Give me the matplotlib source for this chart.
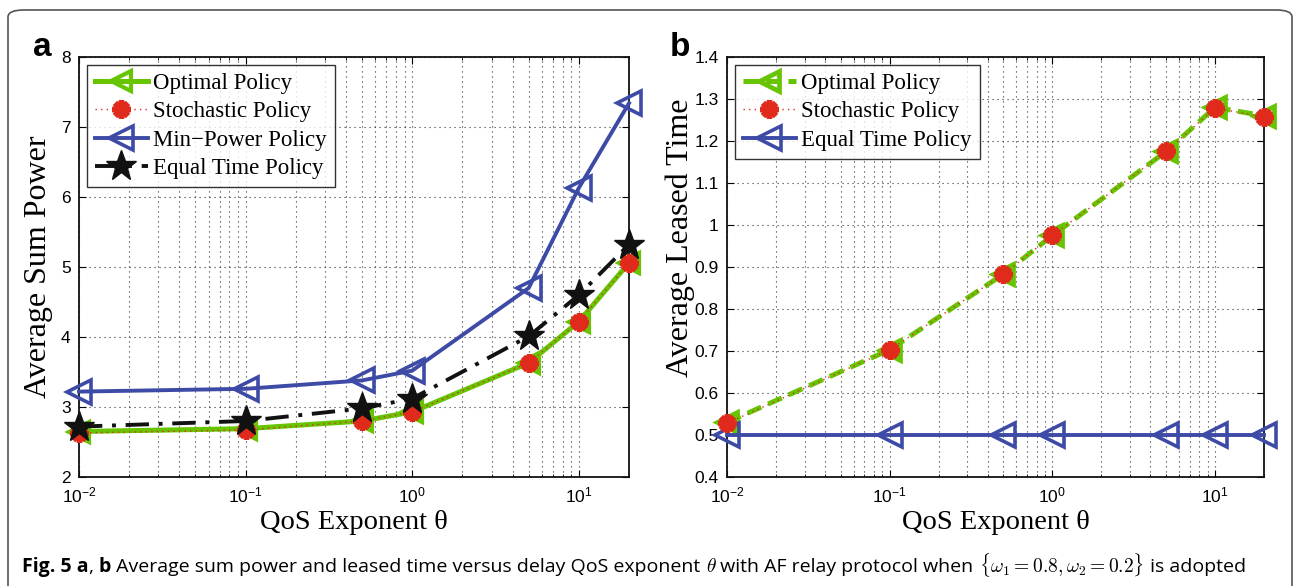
import matplotlib
matplotlib.use("Agg")
import matplotlib.pyplot as plt
from matplotlib.patches import FancyBboxPatch
from matplotlib.ticker import LogLocator, NullFormatter, FixedLocator

# ---------------- data ----------------
theta = [0.01, 0.1, 0.5, 1, 5, 10, 20]

power_optimal = [2.65, 2.69, 2.80, 2.93, 3.63, 4.22, 5.06]
power_stochastic = [2.63, 2.67, 2.80, 2.93, 3.63, 4.22, 5.06]
power_minpower = [3.22, 3.26, 3.38, 3.52, 4.70, 6.13, 7.34]
power_equal = [2.72, 2.80, 2.98, 3.12, 4.01, 4.60, 5.32]

time_optimal = [0.530, 0.703, 0.883, 0.975, 1.175, 1.280, 1.260]
time_stochastic = [0.528, 0.703, 0.883, 0.975, 1.175, 1.278, 1.258]
time_equal = [0.5, 0.5, 0.5, 0.5, 0.5, 0.5, 0.5]

labels_a = ["Optimal Policy", "Stochastic Policy", "Min\u2212Power Policy", "Equal Time Policy"]
labels_b = ["Optimal Policy", "Stochastic Policy", "Equal Time Policy"]

yticks_a = [2, 3, 4, 5, 6, 7, 8]
yticks_b = [0.4, 0.5, 0.6, 0.7, 0.8, 0.9, 1.0, 1.1, 1.2, 1.3, 1.4]
ytick_labels_b = ["0.4", "0.5", "0.6", "0.7", "0.8", "0.9", "1", "1.1", "1.2", "1.3", "1.4"]

# ---------------- style ----------------
GREEN = "#66c400"
RED = "#e02a1c"
BLUE = "#3d4ba6"
BLACK = "#111111"
SERIF = "Liberation Serif"
SANS = "Liberation Sans"

plt.rcParams["mathtext.fontset"] = "cm"

W, H = 1294, 586
fig = plt.figure(figsize=(W / 100, H / 100), dpi=100)
fig.patch.set_facecolor("white")

def fx(px):
    return px / W

def fy(py):
    return 1 - py / H

# outer rounded frame
frame = FancyBboxPatch((fx(8), fy(620)), fx(1284), (620 - 10) / H,
                       boxstyle="round,pad=0,rounding_size=0.012",
                       transform=fig.transFigure, facecolor="none",
                       edgecolor="#555555", linewidth=1.2, clip_on=False)
fig.patches.append(frame)

ax_a = fig.add_axes([fx(79), fy(477), fx(629 - 79), (477 - 57) / H])
ax_b = fig.add_axes([fx(727), fy(477), fx(1264 - 727), (477 - 57) / H])

asterisk = (8, 2, 0)

# ----- panel a -----
ax_a.plot(theta, power_optimal, color=GREEN, lw=3.6, marker="<", ms=15,
          mfc="none", mec=GREEN, mew=3.0, label=labels_a[0], zorder=3, clip_on=False)
ax_a.plot(theta, power_stochastic, color=RED, lw=1.0, ls=(0, (1, 3)), marker=asterisk,
          ms=13, mec=RED, mew=4.0, label=labels_a[1], zorder=4, clip_on=False)
ax_a.plot(theta, power_minpower, color=BLUE, lw=2.8, marker="<", ms=17,
          mfc="none", mec=BLUE, mew=2.6, label=labels_a[2], zorder=3, clip_on=False)
ax_a.plot(theta, power_equal, color=BLACK, lw=2.8, ls=(0, (6, 2.5, 1, 2.5)), marker="*", ms=23,
          mfc=BLACK, mec=BLACK, label=labels_a[3], zorder=5, clip_on=False)
ax_a.set_ylim(2, 8)
ax_a.set_yticks(yticks_a)
ax_a.set_yticklabels([str(v) for v in yticks_a])

# ----- panel b -----
ax_b.plot(theta, time_optimal, color=GREEN, lw=3.6, ls=(0, (3, 1.5)), marker="<", ms=15,
          mfc="none", mec=GREEN, mew=3.4, label=labels_b[0], zorder=3, clip_on=False)
ax_b.plot(theta, time_stochastic, color=RED, lw=1.0, ls=(0, (1, 3)), marker=asterisk,
          ms=13, mec=RED, mew=4.0, label=labels_b[1], zorder=4, clip_on=False)
ax_b.plot(theta, time_equal, color=BLUE, lw=2.8, marker="<", ms=17,
          mfc="none", mec=BLUE, mew=2.6, label=labels_b[2], zorder=3, clip_on=False)
ax_b.set_ylim(0.4, 1.4)
ax_b.set_yticks(yticks_b)
ax_b.set_yticklabels(ytick_labels_b)

for ax in (ax_a, ax_b):
    ax.set_xscale("log")
    ax.set_xlim(0.01, 20)
    ax.xaxis.set_major_locator(FixedLocator([0.01, 0.1, 1, 10]))
    ax.xaxis.set_minor_locator(LogLocator(base=10, subs=range(2, 10), numticks=20))
    ax.xaxis.set_minor_formatter(NullFormatter())
    ax.set_xticklabels([r"$\mathdefault{10^{-2}}$", r"$\mathdefault{10^{-1}}$",
                        r"$\mathdefault{10^{0}}$", r"$\mathdefault{10^{1}}$"])
    ax.tick_params(which="both", direction="in", top=True, right=True)
    ax.tick_params(which="major", length=5, width=0.8, labelsize=12.5, pad=6)
    ax.tick_params(which="minor", length=2.5, width=0.6)
    for lab in ax.get_xticklabels() + ax.get_yticklabels():
        lab.set_fontfamily(SANS)
    ax.grid(True, which="major", axis="both", ls=(0, (1, 3.5)), color="#333333", lw=0.8)
    ax.grid(True, which="minor", axis="x", ls=(0, (1, 3.5)), color="#333333", lw=0.8)
    for s in ax.spines.values():
        s.set_linewidth(1.3)
        s.set_color("#111111")
    ax.set_xlabel("QoS Exponent \u03b8", fontfamily=SERIF, fontsize=20.5)
    ax.xaxis.set_label_coords(0.5, -0.078)

ax_a.set_ylabel("Average Sum Power", fontfamily=SERIF, fontsize=23)
ax_a.yaxis.set_label_coords(-0.047, 0.5)
ax_b.set_ylabel("Average Leased Time", fontfamily=SERIF, fontsize=23)
ax_b.yaxis.set_label_coords(-0.06, 0.57)

leg_kw = dict(loc="upper left", prop={"family": SERIF, "size": 16.5}, frameon=True,
              fancybox=False, edgecolor="black", handlelength=2.3, handletextpad=0.25,
              borderpad=0.35, labelspacing=0.32, borderaxespad=0.35)
la = ax_a.legend(**leg_kw)
lb = ax_b.legend(**leg_kw)
for lg in (la, lb):
    lg.get_frame().set_linewidth(1.0)

fig.text(fx(42), fy(48), "a", fontfamily=SANS, fontweight="bold", fontsize=24,
         ha="center", va="center")
fig.text(fx(680), fy(48), "b", fontfamily=SANS, fontweight="bold", fontsize=24,
         ha="center", va="center")

# ----- caption built from segments -----
CAP_FONT = "Open Sans"
cap_size = 14.0
segments = [
    ("Fig. 5 a", dict(fontfamily=CAP_FONT, fontweight="bold"), 0),
    (", ", dict(fontfamily=CAP_FONT), 0),
    ("b", dict(fontfamily=CAP_FONT, fontweight="bold"), 0),
    (" Average sum power and leased time versus delay QoS exponent ", dict(fontfamily=CAP_FONT), 0),
    (r"$\theta$", dict(fontfamily=CAP_FONT), -1),
    (" with AF relay protocol when ", dict(fontfamily=CAP_FONT), 0),
    (r"$\{\omega_1 = 0.8, \omega_2 = 0.2\}$", dict(fontfamily=CAP_FONT), 1),
    (" is adopted", dict(fontfamily=CAP_FONT), 0),
]
fig.canvas.draw()
renderer = fig.canvas.get_renderer()
x = 22
for txt, kw, extra in segments:
    t = fig.text(fx(x), fy(572), txt, fontsize=cap_size, ha="left", va="baseline", **kw)
    bb = t.get_window_extent(renderer=renderer)
    x += bb.width + extra

fig.savefig("out.png", dpi=100)
